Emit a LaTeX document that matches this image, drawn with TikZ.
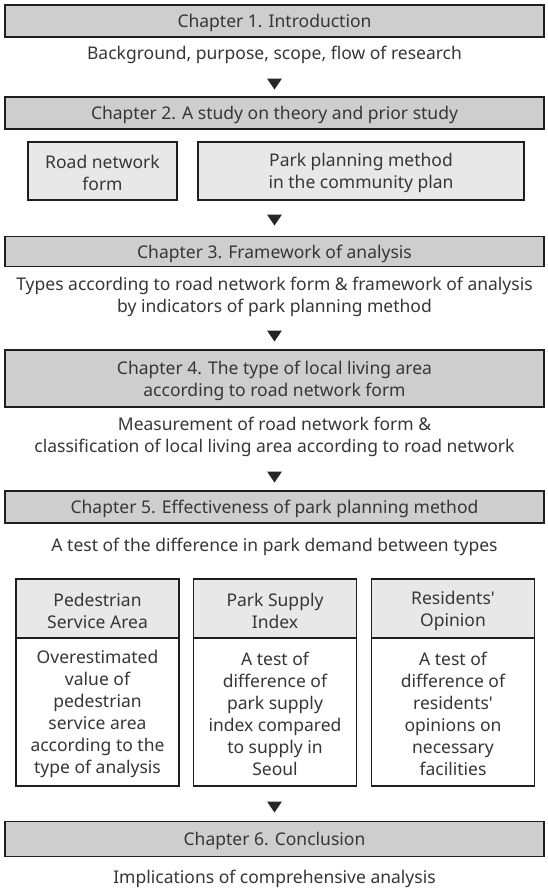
\documentclass[tikz,border=0pt]{standalone}
\usepackage{fontspec}
\setmainfont{Noto Sans}
\definecolor{chfill}{HTML}{CECECF}
\definecolor{subfill}{HTML}{E8E8E8}
\definecolor{txt}{HTML}{363636}
\definecolor{edge}{HTML}{1E1E1E}
\tikzset{
  every node/.style={text=txt, font=\fontsize{17.5}{22}\selectfont, align=center, inner sep=0pt},
  lbl/.style={yshift=-2.2pt},
  chapbox/.style={draw=edge, line width=1.1pt, fill=chfill, minimum width=539pt},
  subbox/.style={draw=edge, line width=1.1pt, fill=subfill, minimum height=58pt},
  headbox/.style={draw=edge, line width=1.1pt, fill=subfill, minimum width=163pt, minimum height=59pt},
  bodybox/.style={draw=edge, line width=1.1pt, fill=white, minimum width=163pt, minimum height=148pt},
  downtri/.pic={\fill[black!85] (-7.5,-5.5) -- (7.5,-5.5) -- (0,5.5) -- cycle;}
}
\begin{document}
\begin{tikzpicture}[x=1pt,y=-1pt]
\useasboundingbox (0,0) rectangle (548,894);
\fill[white] (0,0) rectangle (548,894);
% Chapter 1
\node[chapbox, minimum height=32pt] (ch1) at (274.5,21) {};
\node[lbl] (ch1t) at (ch1) {Chapter 1. Introduction};
\node[lbl] (t1) at (274.5,53) {Background, purpose, scope, flow of research};
\pic at (274.5,84) {downtri};
% Chapter 2
\node[chapbox, minimum height=32pt] (ch2) at (274.5,113) {};
\node[lbl] (ch2t) at (ch2) {Chapter 2. A study on theory and prior study};
\node[subbox, minimum width=149pt] (s1) at (102.5,171) {};
\node[lbl] (s1t) at (s1) {Road network\\form};
\node[subbox, minimum width=326pt] (s2) at (361,171) {};
\node[lbl] (s2t) at (s2) {Park planning method\\in the community plan};
\pic at (274.5,220) {downtri};
% Chapter 3
\node[chapbox, minimum height=30pt] (ch3) at (274.5,251.5) {};
\node[lbl] (ch3t) at (ch3) {Chapter 3. Framework of analysis};
\node[lbl] (t3) at (274.5,295) {Types according to road network form \& framework of analysis\\by indicators of park planning method};
\pic at (274.5,336) {downtri};
% Chapter 4
\node[chapbox, minimum height=57pt] (ch4) at (274.5,378.5) {};
\node[lbl] (ch4t) at (ch4) {Chapter 4. The type of local living area\\according to road network form};
\node[lbl] (t4) at (274.5,435) {Measurement of road network form \&\\classification of local living area according to road network};
\pic at (274.5,477) {downtri};
% Chapter 5
\node[chapbox, minimum height=32pt] (ch5) at (274.5,507) {};
\node[lbl] (ch5t) at (ch5) {Chapter 5. Effectiveness of park planning method};
\node[lbl] (t5) at (274.5,545) {A test of the difference in park demand between types};
% three boxes
\node[bodybox] (b1) at (97.5,712) {};
\node[lbl] (b1t) at (b1) {Overestimated\\value of\\pedestrian\\service area\\according to the\\type of analysis};
\node[headbox] (h1) at (97.5,608.5) {};
\node[lbl] (h1t) at (h1) {Pedestrian\\Service Area};
\node[bodybox] (b2) at (275,712) {};
\node[lbl] (b2t) at (b2) {A test of\\difference of\\park supply\\index compared\\to supply in\\Seoul};
\node[headbox] (h2) at (275,608.5) {};
\node[lbl] (h2t) at (h2) {Park Supply\\Index};
\node[bodybox] (b3) at (453,712) {};
\node[lbl] (b3t) at (b3) {A test of\\difference of\\residents\textquotesingle\\opinions on\\necessary\\facilities};
\node[headbox] (h3) at (453,608.5) {};
\node[lbl] (h3t) at (h3) {Residents\textquotesingle\\Opinion};
\pic at (274.5,807) {downtri};
% Chapter 6
\node[chapbox, minimum height=35pt] (ch6) at (274.5,839) {};
\node[lbl] (ch6t) at (ch6) {Chapter 6. Conclusion};
\node[lbl] (t6) at (274.5,877) {Implications of comprehensive analysis};
\end{tikzpicture}
\end{document}
